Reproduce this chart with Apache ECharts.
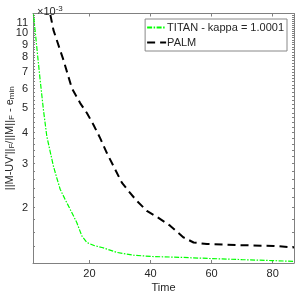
<!DOCTYPE html>
<html>
<head>
<meta charset="utf-8">
<script src="https://cdn.jsdelivr.net/npm/echarts@6/dist/echarts.min.js"></script>
<style>html,body{margin:0;padding:0;background:#fff}#c{width:295px;height:293px}</style>
</head>
<body>
<div id="c"></div>
<script>
// values are in units of 1e-3 (axis shows ×10^-3)
const titanTime = [1.5, 1.64, 2.5, 3, 3.84, 4.92, 6.03, 7, 8.2, 9.3, 10.4, 12, 13.67, 15.87, 17.5, 19.15, 21.5, 24.1, 29, 34.4, 40, 50, 60, 70, 80, 87];
const titanVals = [12.6, 11.9, 9.42, 8.18, 6.5, 4.93, 3.86, 3.41, 2.93, 2.63, 2.37, 2.16, 1.97, 1.74, 1.54, 1.45, 1.41, 1.385, 1.323, 1.29, 1.275, 1.264, 1.25, 1.238, 1.227, 1.218];
const palmTime = [6, 7.11, 8.2, 11.48, 14.23, 16.95, 19.15, 21.3, 23.5, 25.7, 27.9, 30.6, 32.8, 35.5, 38.8, 42.6, 46.5, 50.8, 54.1, 58.5, 69.4, 80.3, 87];
const palmVals = [13.3, 11.99, 10.29, 7.81, 6.02, 5.25, 4.79, 4.3, 3.8, 3.31, 2.93, 2.52, 2.33, 2.13, 1.94, 1.82, 1.69, 1.52, 1.45, 1.43, 1.415, 1.405, 1.385];
const yTickLabels = [2, 3, 4, 5, 6, 7, 8, 9, 10, 11];
const yMinorTicks = [1.4, 1.6, 1.8, 2, 2.2, 2.4, 2.6, 2.8, 3, 3.2, 3.4, 3.6, 3.8, 4, 4.2, 4.4, 4.6, 4.8, 5, 5.2, 5.4, 5.6, 5.8, 6, 6.2, 6.4, 6.6, 6.8, 7, 7.2, 7.4, 7.6, 7.8, 8, 8.2, 8.4, 8.6, 8.8, 9, 9.2, 9.4, 9.6, 9.8, 10, 10.2, 10.4, 10.6, 10.8, 11, 11.2, 11.4, 11.6, 11.8];
const xTickLabels = [20, 40, 60, 80];
const seriesNames = ['TITAN - kappa = 1.0001', 'PALM'];

const FONT = 'Liberation Sans, Arial, sans-serif';
const TXT = '#262626';
const AX = '#808080';

// split labels over two overlapping left axes so close labels are not hidden
const yLabelsA = yTickLabels.filter((v, i) => i % 2 === 0);
const yLabelsB = yTickLabels.filter((v, i) => i % 2 === 1);

const chart = echarts.init(document.getElementById('c'), null, {renderer: 'canvas'});
const xBase = {
  type: 'value', min: 1.5, max: 87,
  axisLine: {show: true, lineStyle: {color: AX, width: 1}},
  splitLine: {show: false},
  axisTick: {show: true, inside: true, length: 3, customValues: xTickLabels, lineStyle: {color: AX}},
};
const yBase = {
  type: 'log', logBase: 10, min: 1.2, max: 12,
  axisLine: {show: true, lineStyle: {color: AX, width: 1}},
  splitLine: {show: false},
  axisTick: {show: true, inside: true, length: 2, customValues: yMinorTicks, lineStyle: {color: AX}},
};
const yLabelStyle = {show: true, color: TXT, fontSize: 11, fontFamily: FONT, margin: 5,
  hideOverlap: false, formatter: v => String(Math.round(v))};
chart.setOption({
  animation: false,
  textStyle: {fontFamily: FONT},
  title: {
    text: '×10{sup|-3}', left: 32, top: 0,
    textStyle: {fontFamily: FONT, fontSize: 11, fontWeight: 'normal', color: TXT,
      rich: {sup: {fontSize: 8, fontFamily: FONT, color: TXT, verticalAlign: 'top', padding: [0, 0, 6, 0]}}}
  },
  grid: {left: 33, right: 1, top: 13.5, bottom: 30, containLabel: false, outerBoundsMode: 'none'},
  legend: {
    orient: 'vertical', right: 8, top: 19,
    data: seriesNames,
    backgroundColor: '#fff', borderColor: '#888', borderWidth: 1,
    padding: [3, 3, 3, 1], itemGap: 4, itemWidth: 19, itemHeight: 10,
    itemStyle: {opacity: 0},
    textStyle: {fontFamily: FONT, fontSize: 11, color: TXT, padding: [0, 0, 0, -4]}
  },
  xAxis: [
    Object.assign({}, xBase, {
      position: 'bottom',
      name: 'Time', nameLocation: 'middle', nameGap: 19, nameMoveOverlap: false,
      nameTextStyle: {fontFamily: FONT, fontSize: 11, color: TXT},
      axisLabel: {show: true, customValues: xTickLabels, color: TXT, fontSize: 11, fontFamily: FONT, margin: 5}
    }),
    Object.assign({}, xBase, {position: 'top', axisLabel: {show: false}})
  ],
  yAxis: [
    Object.assign({}, yBase, {
      position: 'left',
      name: "||M-UV'||{sub|F}/||M||{sub|F} - e{sub|min}", nameLocation: 'middle', nameGap: 17,
      nameMoveOverlap: false,
      nameTextStyle: {fontFamily: FONT, fontSize: 11, color: TXT,
        rich: {sub: {fontSize: 8, fontFamily: FONT, color: TXT, verticalAlign: 'bottom', padding: [5, 0, 0, 0]}}},
      axisLabel: Object.assign({customValues: yLabelsA}, yLabelStyle)
    }),
    Object.assign({}, yBase, {position: 'right', axisLabel: {show: false}}),
    Object.assign({}, yBase, {position: 'left', offset: 0,
      axisLine: {show: false}, axisTick: {show: false},
      axisLabel: Object.assign({customValues: yLabelsB}, yLabelStyle)})
  ],
  series: [
    {
      name: seriesNames[0], type: 'line', xAxisIndex: 0, yAxisIndex: 0,
      data: titanTime.map((t, i) => [t, titanVals[i]]),
      showSymbol: false, symbol: 'none', clip: true,
      lineStyle: {color: '#00ff00', width: 1.2, type: [5, 1.5, 1.5, 1.5]},
      itemStyle: {color: '#00ff00'}
    },
    {
      name: seriesNames[1], type: 'line', xAxisIndex: 0, yAxisIndex: 0,
      data: palmTime.map((t, i) => [t, palmVals[i]]),
      showSymbol: false, symbol: 'none', clip: true,
      lineStyle: {color: '#000', width: 2, type: [8, 5]},
      itemStyle: {color: '#000'}
    }
  ]
});
</script>
</body>
</html>
